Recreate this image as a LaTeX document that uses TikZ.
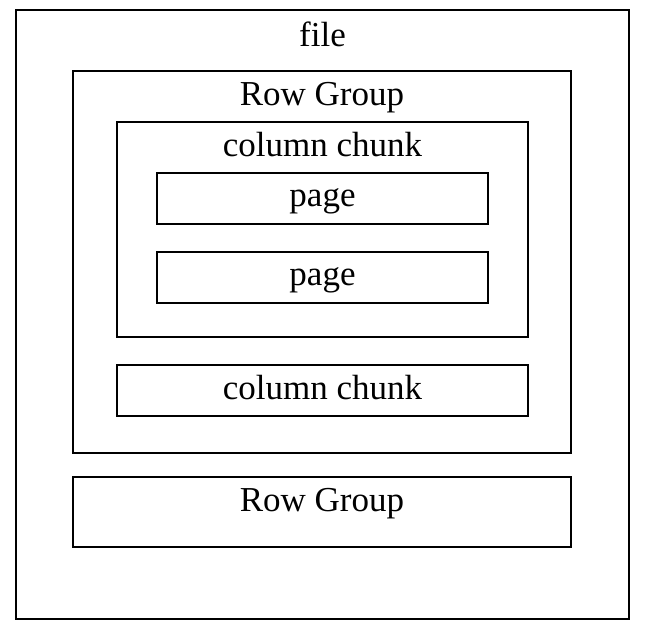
\documentclass[tikz,border=0pt]{standalone}
\usepackage{fontspec}
\setmainfont{Liberation Serif}
\begin{document}
\begin{tikzpicture}[x=1pt,y=-1pt,
  box/.style={draw=black,line width=2pt},
  lbl/.style={anchor=base,inner sep=0pt,font=\fontsize{35}{40}\selectfont}]
\useasboundingbox[fill=white] (0,0) rectangle (647,633);
\draw[box] (16,10) rectangle (629,619);
\draw[box] (73,71) rectangle (571,453);
\draw[box] (117,122) rectangle (528,337);
\draw[box] (157,173) rectangle (488,224);
\draw[box] (157,252) rectangle (488,303);
\draw[box] (117,365) rectangle (528,416);
\draw[box] (73,477) rectangle (571,547);
\node[lbl] (tfile) at (322.5,46) {file};
\node[lbl] (trg1) at (322,105) {Row Group};
\node[lbl] (tcc1) at (322.5,156) {column chunk};
\node[lbl] (tp1) at (322.5,206) {page};
\node[lbl] (tp2) at (322.5,285) {page};
\node[lbl] (tcc2) at (322.5,399) {column chunk};
\node[lbl] (trg2) at (322,511) {Row Group};
\end{tikzpicture}
\end{document}
